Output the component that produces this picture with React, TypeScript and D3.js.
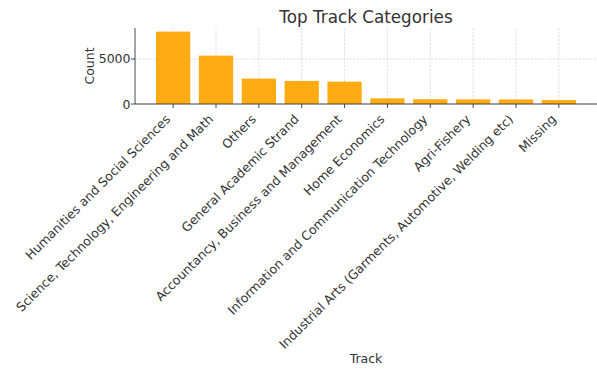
import React from "react";
import * as d3 from "d3";

const categories = [
  "Humanities and Social Sciences",
  "Science, Technology, Engineering and Math",
  "Others",
  "General Academic Strand",
  "Accountancy, Business and Management",
  "Home Economics",
  "Information and Communication Technology",
  "Agri-Fishery",
  "Industrial Arts (Garments, Automotive, Welding etc)",
  "Missing",
];
const counts = [8040, 5370, 2820, 2560, 2480, 630, 530, 520, 510, 440];
const yTicks = [0, 5000];

const W = 597;
const H = 369;
const left = 135;
const right = 597;
const top = 28;
const bottom = 104;
const font = "DejaVu Sans, sans-serif";

export default function App() {
  const n = categories.length;
  const x = d3
    .scaleLinear()
    .domain([-0.89, n - 1 + 0.89])
    .range([left, right]);
  const ymax = d3.max(counts)! * 1.05;
  const y = d3.scaleLinear().domain([0, ymax]).range([bottom, top]);
  const bw = x(0.8) - x(0);
  const fs = 12.5;
  return (
    <svg width={W} height={H} style={{ position: "absolute", left: 0, top: 0 }}>
      <rect width={W} height={H} fill="#fff" />
      {categories.map((c, i) => (
        <line key={"gx" + i} x1={x(i)} x2={x(i)} y1={top} y2={bottom} stroke="#b0b0b0" strokeWidth={0.6} strokeDasharray="2.2,1.5" opacity={0.7} />
      ))}
      {yTicks.map((t) => (
        <line key={"gy" + t} x1={left} x2={right} y1={y(t)} y2={y(t)} stroke="#b0b0b0" strokeWidth={0.6} strokeDasharray="2.2,1.5" opacity={0.7} />
      ))}
      {counts.map((v, i) => (
        <rect key={"b" + i} x={x(i) - bw / 2} width={bw} y={y(v)} height={y(0) - y(v)} fill="#FFA500" fillOpacity={0.92} />
      ))}
      <line x1={left} x2={left} y1={top} y2={bottom} stroke="#333" strokeWidth={0.9} />
      <line x1={left} x2={right} y1={bottom} y2={bottom} stroke="#333" strokeWidth={0.9} />
      {yTicks.map((t) => (
        <g key={"yt" + t}>
          <line x1={left - 4} x2={left} y1={y(t)} y2={y(t)} stroke="#333" strokeWidth={0.9} />
          <text x={left - 4.5} y={y(t)} dy="0.36em" textAnchor="end" fontFamily={font} fontSize={fs} fill="#333">
            {t}
          </text>
        </g>
      ))}
      {categories.map((c, i) => {
        const px = x(i) - 2;
        const py = bottom + 16;
        return (
          <g key={"xt" + i}>
            <line x1={x(i)} x2={x(i)} y1={bottom} y2={bottom + 4} stroke="#333" strokeWidth={0.9} />
            <text transform={`translate(${px},${py}) rotate(-45)`} textAnchor="end" fontFamily={font} fontSize={fs} fill="#333">
              {c}
            </text>
          </g>
        );
      })}
      <text x={(left + right) / 2} y={23} textAnchor="middle" fontFamily={font} fontSize={16.8} fill="#333">
        Top Track Categories
      </text>
      <text transform={`translate(94,${(top + bottom) / 2}) rotate(-90)`} textAnchor="middle" fontFamily={font} fontSize={12.5} fill="#333">
        Count
      </text>
      <text x={366} y={363} textAnchor="middle" fontFamily={font} fontSize={12.5} fill="#333">
        Track
      </text>
    </svg>
  );
}
